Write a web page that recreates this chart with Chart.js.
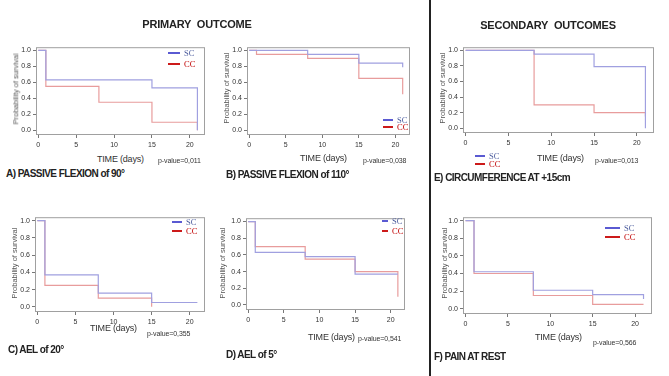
<!DOCTYPE html>
<html>
<head>
<meta charset="utf-8">
<script src="https://cdn.jsdelivr.net/npm/chart.js@4.4.1/dist/chart.umd.min.js"></script>
<style>
  body { margin: 0; background: #fff; width: 669px; height: 376px; position: relative; overflow: hidden;
         font-family: "Liberation Sans", Arial, sans-serif; }
  canvas { position: absolute; }
  .t { position: absolute; white-space: nowrap; line-height: 1; transform: translateY(-50%); color: #222; }
  .head { font-weight: bold; font-size: 11px; transform: translate(-50%, -50%); word-spacing: 3px; letter-spacing: -0.2px; }
  .cap { font-weight: bold; font-size: 10px; letter-spacing: -0.55px; }
  .xt { font-size: 9px; color: #333; letter-spacing: -0.2px; }
  .pv { font-size: 7px; color: #333; letter-spacing: -0.1px; }
  .yt { font-size: 7.5px; color: #555; transform: translate(-50%, -50%) rotate(-90deg); }
  .lg { font-family: "Liberation Serif", "DejaVu Serif", serif; font-size: 8.5px; }
  .mk { position: absolute; height: 2px; transform: translateY(-50%); }
  #divider { position: absolute; left: 429px; top: 0; width: 2px; height: 376px; background: #222; }
</style>
</head>
<body>
<div id="divider"></div>
<script>
// dias de avaliação (eixo x) e ticks
var days = [0, 1, 8, 15, 21];
var xTicks = [0, 5, 10, 15, 20];
var yTicks = [0, 0.2, 0.4, 0.6, 0.8, 1.0];
var groups = ['SC', 'CC'];

// curvas de sobrevivência (valor depois de cada dia)
var flex90SC  = [1, 0.63, 0.63, 0.53, 0];
var flex90CC  = [1, 0.55, 0.35, 0.10, 0];
var flex110SC = [1, 1, 0.95, 0.84, 0.79];
var flex110CC = [1, 0.95, 0.90, 0.65, 0.45];
var circSC    = [1, 1, 0.95, 0.79, 0];
var circCC    = [1, 1, 0.30, 0.20, 0.15];
var ael20SC   = [1, 0.37, 0.16, 0.05, 0.05];
var ael20CC   = [1, 0.25, 0.10, 0, null];
var ael5SC    = [1, 0.63, 0.58, 0.37, 0.37];
var ael5CC    = [1, 0.70, 0.55, 0.40, 0.10];
var painSC    = [1, 0.42, 0.21, 0.16, 0.11];
var painCC    = [1, 0.40, 0.15, 0.05, 0.05];

var pValues = ['0,011', '0,038', '0,013', '0,355', '0,541', '0,566'];
var captions = ['A) PASSIVE FLEXION of 90°', 'B) PASSIVE FLEXION of 110°', 'E) CIRCUMFERENCE AT +15cm',
                'C) AEL of 20°', 'D) AEL of 5°', 'F) PAIN AT REST'];

// posição de cada painel na figura
var panels = [
  { sc: flex90SC,  cc: flex90CC,  box: [36, 43, 205, 135],  yl: [16, 89],  time: [97, 159],  pv: [158, 160], cap: [6, 174],   lg: [168, 53, 12, 11] },
  { sc: flex110SC, cc: flex110CC, box: [247, 43, 410, 135], yl: [227, 88], time: [300, 158], pv: [363, 160], cap: [226, 175], lg: [383, 120, 10, 7] },
  { sc: circSC,    cc: circCC,    box: [463, 43, 654, 133], yl: [443, 88], time: [537, 158], pv: [595, 160], cap: [434, 178], lg: [475, 156, 10, 8] },
  { sc: ael20SC,   cc: ael20CC,   box: [35, 213, 205, 312], yl: [15, 263], time: [90, 328],  pv: [147, 333], cap: [8, 350],   lg: [172, 222, 10, 9] },
  { sc: ael5SC,    cc: ael5CC,    box: [246, 214, 405, 310], yl: [223, 263], time: [308, 337], pv: [358, 338], cap: [226, 355], lg: [382, 221, 6, 10] },
  { sc: painSC,    cc: painCC,    box: [463, 213, 652, 314], yl: [445, 263], time: [535, 337], pv: [593, 342], cap: [434, 357], lg: [605, 228, 15, 9] }
];

var tickFont = { family: '"Liberation Sans Narrow", "Liberation Sans", Arial', size: 7 };

function txt(str, x, y, cls, color) {
  var d = document.createElement('div');
  d.className = 't ' + cls;
  d.textContent = str;
  d.style.left = x + 'px';
  d.style.top = y + 'px';
  if (color) d.style.color = color;
  document.body.appendChild(d);
  return d;
}

function marker(x, y, w, color) {
  var d = document.createElement('div');
  d.className = 'mk';
  d.style.left = x + 'px';
  d.style.top = y + 'px';
  d.style.width = w + 'px';
  d.style.background = color;
  document.body.appendChild(d);
}

function pts(values) {
  var out = [];
  for (var i = 0; i < days.length; i++) {
    if (values[i] !== null) out.push({ x: days[i], y: values[i] });
  }
  return out;
}

// moldura cinza em volta da área do gráfico
var frame = {
  id: 'frame',
  afterDraw: function(chart) {
    var a = chart.chartArea, ctx = chart.ctx;
    ctx.save();
    ctx.strokeStyle = '#a0a0a0';
    ctx.lineWidth = 1;
    ctx.strokeRect(a.left + 0.5, a.top + 0.5, a.right - a.left - 1, a.bottom - a.top - 1);
    ctx.restore();
  }
};

function buildKM(p) {
  var padL = 26, padB = 16;
  var c = document.createElement('canvas');
  var w = p.box[2] - p.box[0] + padL + 3;
  var h = p.box[3] - p.box[1] + 2 + padB;
  c.width = w; c.height = h;
  c.style.width = w + 'px'; c.style.height = h + 'px';
  c.style.left = (p.box[0] - padL) + 'px';
  c.style.top = (p.box[1] - 2) + 'px';
  document.body.appendChild(c);

  new Chart(c, {
    type: 'line',
    data: {
      datasets: [
        { label: groups[0], data: pts(p.sc), stepped: 'before', borderColor: '#a0a0e0', borderWidth: 1.2, pointRadius: 0, fill: false },
        { label: groups[1], data: pts(p.cc), stepped: 'before', borderColor: '#e89c9c', borderWidth: 1.2, pointRadius: 0, fill: false }
      ]
    },
    options: {
      responsive: false,
      animation: false,
      layout: { padding: { top: 2, right: 3, left: 0, bottom: 0 } },
      plugins: { legend: { display: false }, tooltip: { enabled: false } },
      scales: {
        x: {
          type: 'linear', min: -0.3, max: 22,
          afterBuildTicks: function(s) { s.ticks = xTicks.map(function(v) { return { value: v }; }); },
          afterFit: function(s) { s.height = padB; },
          grid: { drawOnChartArea: false, tickLength: 3, color: '#777' },
          border: { display: false },
          ticks: { font: tickFont, color: '#333', padding: 3, maxRotation: 0 }
        },
        y: {
          type: 'linear', min: -0.06, max: 1.04,
          afterBuildTicks: function(s) { s.ticks = yTicks.map(function(v) { return { value: v }; }); },
          afterFit: function(s) { s.width = padL; },
          grid: { drawOnChartArea: false, tickLength: 3, color: '#777' },
          border: { display: false },
          ticks: { font: tickFont, color: '#333', padding: 2, callback: function(v) { return v.toFixed(1); } }
        }
      }
    },
    plugins: [frame]
  });

  txt('Probability of survival', p.yl[0], p.yl[1], 'yt');
  txt('TIME  (days)', p.time[0], p.time[1], 'xt');
  var lg = p.lg;
  marker(lg[0], lg[1], lg[2], '#5a5ad2');
  marker(lg[0], lg[1] + lg[3], lg[2], '#cc1a1a');
  txt(groups[0], lg[0] + lg[2] + 4, lg[1], 'lg', '#4f5f9f');
  txt(groups[1], lg[0] + lg[2] + 4, lg[1] + lg[3], 'lg', '#c00000');
}

panels.forEach(function(p, i) {
  buildKM(p);
  txt('p-value=' + pValues[i], p.pv[0], p.pv[1], 'pv');
  txt(captions[i], p.cap[0], p.cap[1], 'cap');
});

txt('PRIMARY  OUTCOME', 197, 24, 'head');
txt('SECONDARY  OUTCOMES', 548, 25, 'head');
</script>
</body>
</html>
